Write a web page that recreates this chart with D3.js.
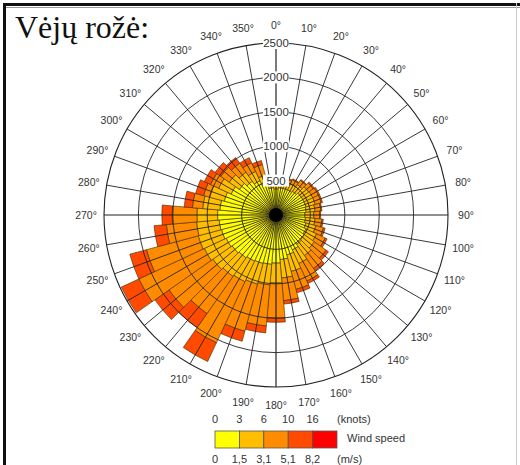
<!DOCTYPE html>
<html><head><meta charset="utf-8">
<script src="https://cdn.jsdelivr.net/npm/d3@7"></script>
<style>body{margin:0;background:#fff}svg{display:block}</style>
</head><body>
<script>
// ---- data ----
const directions = d3.range(0, 360, 10);
// speed classes (knots): 0-3, 3-6, 6-10, 10-16, >16
const speedClasses = ["0-3", "3-6", "6-10", "10-16", "16+"];
const s0_3   = [380,400,400,400,420,450,450,450,440,420,430,450,480,500,520,560,600,650,700,720,730,740,760,780,800,820,830,850,820,780,720,650,600,550,480,400];
const s3_6   = [ 80, 80, 90,100,120,130,140,140,130,130,140,150,170,180,200,220,250,270,290,300,310,330,330,340,350,350,330,300,250,220,200,180,160,150,120,100];
const s6_10  = [ 10, 25, 50, 65, 75, 80, 90, 90, 85, 85,100,115,140,210,230,280,270,330,510,600,710,980,660,780,1050,780,440,360,150,90,130,150,160,140,160,40];
const s10_16 = [ 10, 15, 20, 15, 15, 20, 20, 20, 15, 15, 20, 25, 30, 40, 40, 40, 50, 50, 60,100,150,300,250,250,280,250,180,150,120,120,100,100,100, 80, 60,20];
const s16p   = directions.map(() => 0);
const ringTicks = [500, 1000, 1500, 2000, 2500];
const knotLabels = ["0", "3", "6", "10", "16"];
const msLabels = ["0", "1,5", "3,1", "5,1", "8,2"];
const classColors = ["#ffff00", "#ffbf00", "#ff8c00", "#ff4a00", "#ff0000"];

const W = 520, H = 465, cx = 276, cy = 215, R = 172;
const svg = d3.select("body").append("svg").attr("width", W).attr("height", H);

// frame
svg.append("rect").attr("x", 0).attr("y", 0).attr("width", W).attr("height", H).attr("fill", "#fff");
svg.append("line").attr("x1", 3).attr("x2", W).attr("y1", 4.5).attr("y2", 4.5).attr("stroke", "#111").attr("stroke-width", 3);
svg.append("line").attr("x1", 3).attr("x2", W).attr("y1", 7.5).attr("y2", 7.5).attr("stroke", "#999").attr("stroke-width", 1);
svg.append("line").attr("x1", 4.5).attr("x2", 4.5).attr("y1", 3).attr("y2", H).attr("stroke", "#111").attr("stroke-width", 3);
svg.append("line").attr("x1", 516.5).attr("x2", 516.5).attr("y1", 3).attr("y2", H).attr("stroke", "#ccc").attr("stroke-width", 1);

// title
svg.append("text").attr("x", 15).attr("y", 38).attr("font-family", "Liberation Serif, Times New Roman, serif")
  .attr("font-size", 32).attr("fill", "#111").text("Vėjų rožė:");

const r = d3.scaleLinear().domain([0, 2500]).range([0, R]);
const ang = d3.scaleLinear().domain([0, 360]).range([0, 2 * Math.PI]);
const g = svg.append("g").attr("transform", `translate(${cx},${cy})`);

// stacked bars
const series = [s0_3, s3_6, s6_10, s10_16, s16p];
const arc = d3.arc();
directions.forEach((d, i) => {
  let cum = 0;
  series.forEach((s, k) => {
    const v = s[i];
    if (v <= 0) return;
    g.append("path").attr("d", arc({
      innerRadius: r(cum), outerRadius: r(cum + v),
      startAngle: ang(d - 5), endAngle: ang(d + 5)
    })).attr("fill", classColors[k]).attr("stroke", "#3a2a00").attr("stroke-width", 0.6);
    cum += v;
  });
});

// grid
ringTicks.forEach(t => {
  g.append("circle").attr("r", r(t)).attr("fill", "none").attr("stroke", "#222").attr("stroke-width", t === 2500 ? 1.1 : 0.9);
});
directions.forEach(d => {
  const a = ang(d);
  g.append("line").attr("x1", 0).attr("y1", 0)
    .attr("x2", R * Math.sin(a)).attr("y2", -R * Math.cos(a))
    .attr("stroke", "#222").attr("stroke-width", d % 90 === 0 ? 1.2 : 0.9);
});
g.append("circle").attr("r", 7).attr("fill", "#000");

// ring labels
ringTicks.forEach(t => {
  const lbl = g.append("g").attr("transform", `translate(0,${-r(t)})`);
  lbl.append("rect").attr("x", -13).attr("y", -6).attr("width", 26).attr("height", 12).attr("fill", "#fff");
  lbl.append("text").attr("text-anchor", "middle").attr("dy", "0.35em")
    .attr("font-family", "Liberation Sans Narrow, Liberation Sans, Arial, sans-serif").attr("font-size", 11.5)
    .attr("fill", "#333").text(t);
});

// direction labels
directions.forEach(d => {
  const a = ang(d), rl = 190;
  g.append("text").attr("x", rl * Math.sin(a)).attr("y", -rl * Math.cos(a))
    .attr("text-anchor", "middle").attr("dy", "0.35em")
    .attr("font-family", "Liberation Sans, Arial, sans-serif").attr("font-size", 10.5)
    .attr("fill", "#333").text(d + "°");
});

// legend
const lx = d3.scaleLinear().domain([0, 5]).range([215, 337]);
const lg = svg.append("g").attr("font-family", "Liberation Sans, Arial, sans-serif").attr("font-size", 11).attr("fill", "#333");
knotLabels.forEach((t, i) => lg.append("text").attr("x", lx(i)).attr("y", 423).attr("text-anchor", "middle").text(t));
lg.append("text").attr("x", 337).attr("y", 423).text("(knots)");
classColors.forEach((c, i) => lg.append("rect").attr("x", lx(i)).attr("y", 431).attr("width", lx(1) - lx(0)).attr("height", 17)
  .attr("fill", c).attr("stroke", "#555").attr("stroke-width", 0.8));
lg.append("text").attr("x", 347).attr("y", 442).text("Wind speed");
msLabels.forEach((t, i) => lg.append("text").attr("x", lx(i)).attr("y", 463).attr("text-anchor", "middle").text(t));
lg.append("text").attr("x", 337).attr("y", 463).text("(m/s)");
</script>
</body></html>
